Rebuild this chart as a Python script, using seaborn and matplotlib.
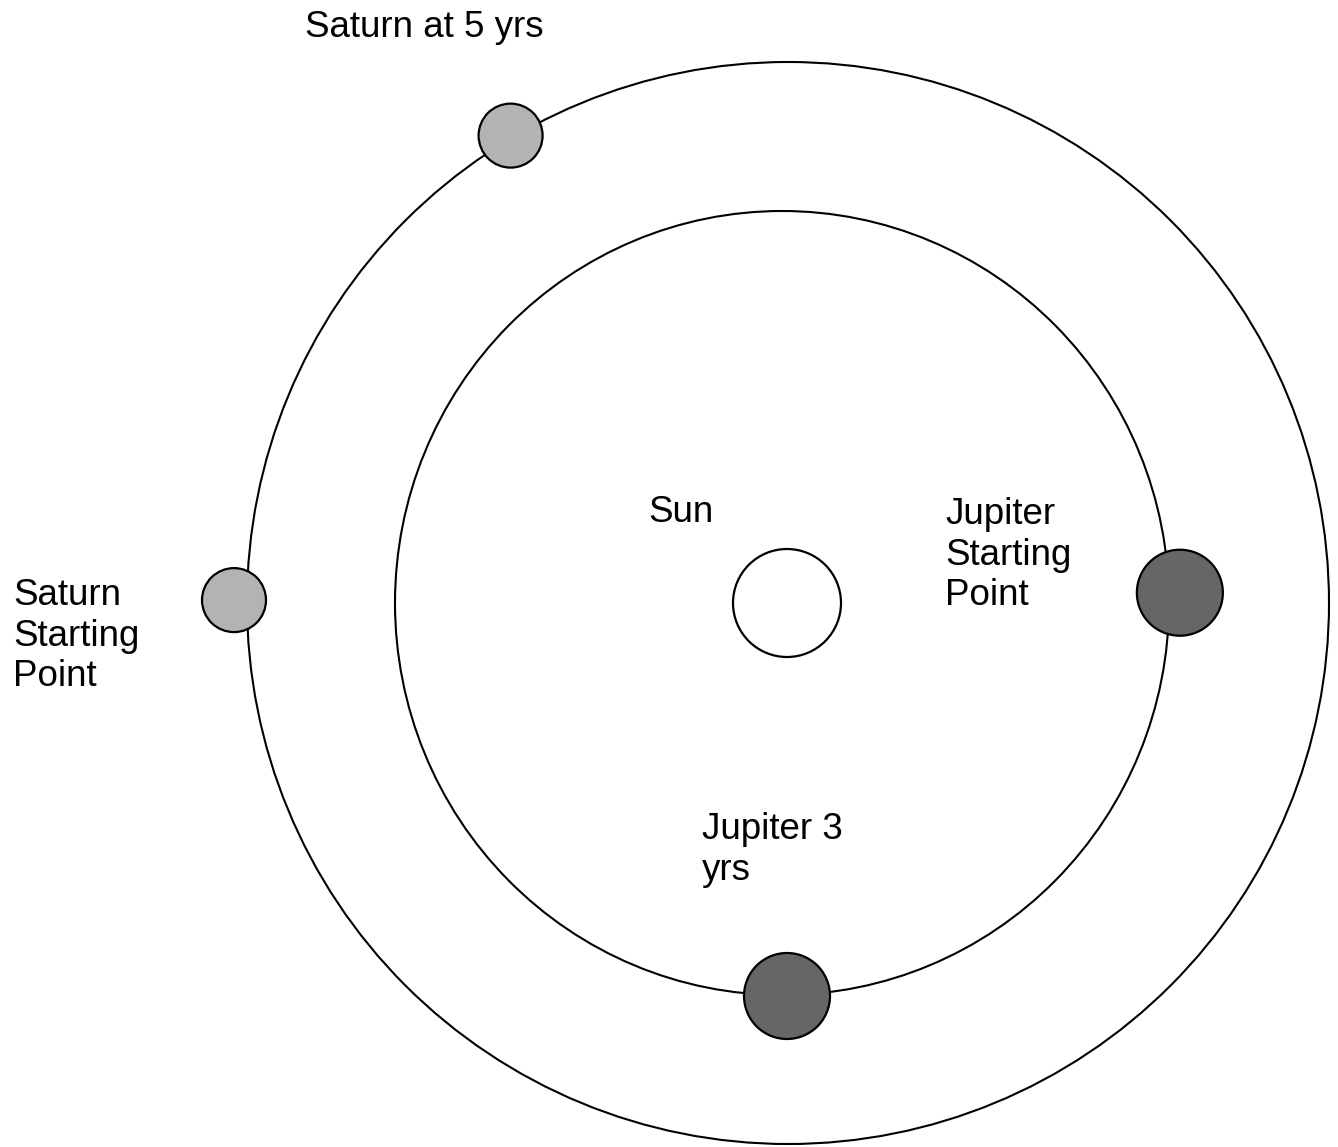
import numpy as np
import matplotlib
matplotlib.use("Agg")
import matplotlib.pyplot as plt
from matplotlib.patches import Circle, Ellipse
import seaborn as sns

# orbits (centre offset from the sun, half width, half height), in px
orbit_names = ["Jupiter", "Saturn"]
orbit_dx = [-5, 1]
orbit_rx = [387, 541]
orbit_ry = [392, 541]

# bodies: distance from sun, angle (deg, counter-clockwise from +x)
body_names = ["Sun", "Jupiter", "Jupiter", "Saturn", "Saturn"]
body_dist = [0, 393, 393, 553, 543]
body_angle = [0, 1.5, -90, 179.7, 120.6]
body_radius = [54, 43, 43, 32, 32]
body_colors = {"Sun": "#ffffff", "Jupiter": "#666666", "Saturn": "#b3b3b3"}

labels = ["Sun", "Jupiter\nStarting\nPoint", "Jupiter 3\nyrs",
          "Saturn\nStarting\nPoint", "Saturn at 5 yrs"]

sns.set_theme(style="white")
plt.rcParams['font.family'] = ['Liberation Sans', 'DejaVu Sans']

fig = plt.figure(figsize=(13.38, 11.47), dpi=100)
ax = fig.add_axes([0, 0, 1, 1])
ax.set_xlim(0, 1338)
ax.set_ylim(1147, 0)
ax.axis('off')

sun_x, sun_y = 787, 603

for dx, rx, ry in zip(orbit_dx, orbit_rx, orbit_ry):
    ax.add_patch(Ellipse((sun_x + dx, sun_y), 2 * rx, 2 * ry, fill=False,
                         edgecolor='black', linewidth=1.5, zorder=1))

for name, d, a, r in zip(body_names, body_dist, body_angle, body_radius):
    x = sun_x + d * np.cos(np.radians(a))
    y = sun_y - d * np.sin(np.radians(a))
    ax.add_patch(Circle((x, y), r, facecolor=body_colors[name],
                        edgecolor='black', linewidth=1.6, zorder=2))

# label anchors (left, top) in px
label_pos = [(648, 495), (945, 497), (702, 812), (13, 578), (305, 10)]
for text, (lx, ly) in zip(labels, label_pos):
    ax.text(lx, ly, text, fontsize=26.5, ha='left', va='top',
            linespacing=1.21, color='black')

fig.savefig("out.png", dpi=100, facecolor='white')
